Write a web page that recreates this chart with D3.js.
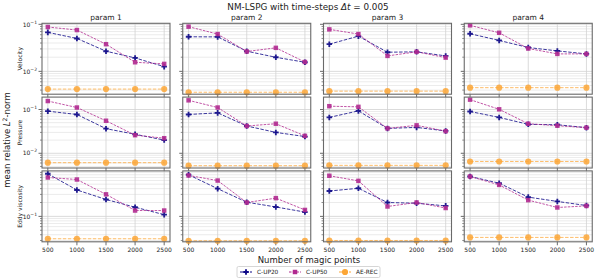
<!DOCTYPE html>
<html lang="en">
<head>
<meta charset="UTF-8">
<title>NM-LSPG errors</title>
<script src="https://d3js.org/d3.v7.min.js"></script>
<style>
  body { margin: 0; background: #fff; }
  svg { font-family: "DejaVu Sans", sans-serif; display: block; }
</style>
</head>
<body>
<div id="chart"></div>
<script>
// data
var magicPoints = [500, 1000, 1500, 2000, 2500];
var params = ["param 1", "param 2", "param 3", "param 4"];
var rowLabels = ["Velocity", "Pressure", "Eddy viscosity"];
var seriesNames = ["C-UP20", "C-UP50", "AE-REC"];

// one inner array per param
var cup20Vel = [
  [0.0674, 0.050, 0.0268, 0.0193, 0.0126],
  [0.0543, 0.054, 0.0268, 0.0199, 0.0156],
  [0.0378, 0.056, 0.0255, 0.026, 0.0213],
  [0.063, 0.0454, 0.0321, 0.0272, 0.0235]
];
var cup50Vel = [
  [0.0875, 0.0755, 0.0378, 0.0156, 0.0144],
  [0.089, 0.062, 0.0264, 0.0316, 0.0158],
  [0.078, 0.062, 0.0213, 0.026, 0.0196],
  [0.095, 0.066, 0.0306, 0.0235, 0.0235]
];
var aeRecVel = [
  [0.0042, 0.0042, 0.0042, 0.0042, 0.0042],
  [0.0036, 0.0036, 0.0036, 0.0036, 0.0036],
  [0.0038, 0.0038, 0.0038, 0.0038, 0.0038],
  [0.0045, 0.0045, 0.0045, 0.0045, 0.0045]
];
var cup20Pres = [
  [0.0916, 0.077, 0.0365, 0.0272, 0.020],
  [0.077, 0.0838, 0.042, 0.030, 0.0241],
  [0.066, 0.093, 0.037, 0.039, 0.0324],
  [0.090, 0.066, 0.0458, 0.0449, 0.0385]
];
var cup50Pres = [
  [0.156, 0.111, 0.0553, 0.0259, 0.0221],
  [0.162, 0.111, 0.042, 0.0473, 0.025],
  [0.119, 0.115, 0.037, 0.0435, 0.032],
  [0.168, 0.101, 0.0473, 0.0427, 0.0385]
];
var aeRecPres = [
  [0.0061, 0.0061, 0.0061, 0.0061, 0.0061],
  [0.0052, 0.0052, 0.0052, 0.0052, 0.0052],
  [0.0053, 0.0053, 0.0053, 0.0053, 0.0053],
  [0.0065, 0.0065, 0.0065, 0.0065, 0.0065]
];
var cup20Eddy = [
  [0.841, 0.374, 0.233, 0.158, 0.109],
  [0.80, 0.399, 0.203, 0.160, 0.124],
  [0.355, 0.407, 0.200, 0.193, 0.169],
  [0.734, 0.525, 0.262, 0.211, 0.172]
];
var cup50Eddy = [
  [0.698, 0.631, 0.301, 0.134, 0.134],
  [0.773, 0.599, 0.200, 0.249, 0.138],
  [0.761, 0.590, 0.164, 0.200, 0.152],
  [0.734, 0.482, 0.225, 0.156, 0.169]
];
var aeRecEddy = [
  [0.0327, 0.0327, 0.0327, 0.0327, 0.0327],
  [0.0296, 0.0296, 0.0296, 0.0296, 0.0296],
  [0.030, 0.030, 0.030, 0.030, 0.030],
  [0.035, 0.035, 0.035, 0.035, 0.035]
];
var yDomains = [[0.00327, 0.105], [0.00461, 0.192], [0.0281, 0.97]];

var rows = [
  [cup20Vel, cup50Vel, aeRecVel],
  [cup20Pres, cup50Pres, aeRecPres],
  [cup20Eddy, cup50Eddy, aeRecEddy]
];

var colors = [d3.interpolatePlasma(0.0), d3.interpolatePlasma(0.4), d3.interpolatePlasma(0.8)];
var symTypes = [d3.symbolCross, d3.symbolSquare, d3.symbolCircle];
var symSizes = [17, 20, 30];
var dashes = ["3.5,1.5", "2.5,1.2", "3.5,1.5"];

var W = 598, H = 280;
var padL = 42, padT = 23.3, pw = 128, ph = 70.9, gx = 12.75, gy = 2.9;

var svg = d3.select("#chart").append("svg")
  .attr("width", W).attr("height", H);

var x = d3.scaleLinear().domain([400, 2600]).range([0, pw]);

function supNum(sel, exp) {
  sel.text("10");
  sel.append("tspan").attr("dy", -3).attr("font-size", 4.5).text("\u2212" + exp);
}

rows.forEach(function(series, r) {
  var y = d3.scaleLog().domain(yDomains[r]).range([ph, 0]);
  var lo = Math.floor(Math.log10(yDomains[r][0])), hi = Math.ceil(Math.log10(yDomains[r][1]));
  var majors = [], minors = [];
  for (var e = lo; e <= hi; e++) {
    var base = Math.pow(10, e);
    if (base >= yDomains[r][0] && base <= yDomains[r][1]) majors.push(base);
    for (var k = 2; k < 10; k++) {
      var v = k * base;
      if (v >= yDomains[r][0] && v <= yDomains[r][1]) minors.push(v);
    }
  }

  params.forEach(function(p, c) {
    var g = svg.append("g")
      .attr("transform", "translate(" + (padL + c * (pw + gx)) + "," + (padT + r * (ph + gy)) + ")");

    g.append("rect").attr("width", pw).attr("height", ph).attr("fill", "#fff");

    // grid
    g.selectAll(".minor").data(minors).enter().append("line")
      .attr("x1", 0).attr("x2", pw)
      .attr("y1", function(d) { return y(d); }).attr("y2", function(d) { return y(d); })
      .attr("stroke", "#e6e6e6").attr("stroke-width", 0.8);
    g.selectAll(".major").data(majors).enter().append("line")
      .attr("x1", 0).attr("x2", pw)
      .attr("y1", function(d) { return y(d); }).attr("y2", function(d) { return y(d); })
      .attr("stroke", "#d2d2d2").attr("stroke-width", 0.8);
    g.selectAll(".vgrid").data(magicPoints).enter().append("line")
      .attr("x1", function(d) { return x(d); }).attr("x2", function(d) { return x(d); })
      .attr("y1", 0).attr("y2", ph)
      .attr("stroke", "#d2d2d2").attr("stroke-width", 0.8);

    // ticks
    g.selectAll(".ytm").data(minors).enter().append("line")
      .attr("x1", -2).attr("x2", 0)
      .attr("y1", function(d) { return y(d); }).attr("y2", function(d) { return y(d); })
      .attr("stroke", "#444").attr("stroke-width", 0.6);
    g.selectAll(".ytM").data(majors).enter().append("line")
      .attr("x1", -3.5).attr("x2", 0)
      .attr("y1", function(d) { return y(d); }).attr("y2", function(d) { return y(d); })
      .attr("stroke", "#444").attr("stroke-width", 0.8);
    g.selectAll(".xt").data(magicPoints).enter().append("line")
      .attr("x1", function(d) { return x(d); }).attr("x2", function(d) { return x(d); })
      .attr("y1", ph).attr("y2", ph + 3.5)
      .attr("stroke", "#444").attr("stroke-width", 0.8);

    if (c === 0) {
      majors.forEach(function(m) {
        g.append("text").attr("x", -5).attr("y", y(m) + 2.2)
          .attr("text-anchor", "end").attr("font-size", 6).attr("fill", "#222")
          .call(supNum, -Math.round(Math.log10(m)));
      });
      g.append("text")
        .attr("transform", "translate(-20," + (ph / 2) + ") rotate(-90)")
        .attr("text-anchor", "middle").attr("font-size", 6).attr("fill", "#222")
        .text(rowLabels[r]);
    }
    if (r === 0) {
      g.append("text").attr("x", pw / 2).attr("y", -3)
        .attr("text-anchor", "middle").attr("font-size", 7.5).attr("fill", "#222")
        .text(p);
    }
    if (r === rows.length - 1) {
      g.selectAll(".xl").data(magicPoints).enter().append("text")
        .attr("x", function(d) { return x(d); }).attr("y", ph + 10)
        .attr("text-anchor", "middle").attr("font-size", 6).attr("fill", "#222")
        .text(function(d) { return d; });
    }

    var line = d3.line()
      .x(function(d, i) { return x(magicPoints[i]); })
      .y(function(d) { return y(d); });

    series.forEach(function(s, si) {
      var vals = s[c];
      g.append("path").datum(vals)
        .attr("d", line).attr("fill", "none")
        .attr("stroke", colors[si]).attr("stroke-width", 1)
        .attr("stroke-opacity", si === 2 ? 0.75 : 0.8)
        .attr("stroke-dasharray", dashes[si]);
      g.selectAll(".m" + si).data(vals).enter().append("path")
        .attr("transform", function(d, i) { return "translate(" + x(magicPoints[i]) + "," + y(d) + ")"; })
        .attr("d", d3.symbol().type(symTypes[si]).size(symSizes[si]))
        .attr("fill", colors[si])
        .attr("fill-opacity", si === 2 ? 0.85 : 0.9);
    });

    g.append("rect").attr("width", pw).attr("height", ph)
      .attr("fill", "none").attr("stroke", "#6a6a6a").attr("stroke-width", 1.1);
  });
});

// figure texts
var title = svg.append("text").attr("x", 308).attr("y", 10)
  .attr("text-anchor", "middle").attr("font-size", 8.8).attr("fill", "#222");
title.append("tspan").text("NM-LSPG with time-steps ");
title.append("tspan").attr("font-style", "italic").text("\u0394t");
title.append("tspan").text(" = 0.005");

svg.append("text").attr("x", 309).attr("y", 263)
  .attr("text-anchor", "middle").attr("font-size", 8.5).attr("fill", "#222")
  .text("Number of magic points");

var yl = svg.append("text")
  .attr("transform", "translate(10,140) rotate(-90)")
  .attr("text-anchor", "middle").attr("font-size", 8.5).attr("fill", "#222");
yl.append("tspan").text("mean relative ");
yl.append("tspan").attr("font-style", "italic").text("L");
yl.append("tspan").attr("dy", -3).attr("font-size", 6).text("2");
yl.append("tspan").attr("dy", 3).text("-norm");

// legend
var lg = svg.append("g").attr("transform", "translate(237,266.5)");
lg.append("rect").attr("width", 143).attr("height", 11).attr("rx", 1.5)
  .attr("fill", "#fff").attr("stroke", "#ccc").attr("stroke-width", 0.8);
var legX = [3, 52, 102];
seriesNames.forEach(function(n, si) {
  var it = lg.append("g").attr("transform", "translate(" + legX[si] + ",5.5)");
  it.append("line").attr("x1", 0).attr("x2", 12)
    .attr("stroke", colors[si]).attr("stroke-width", 1)
    .attr("stroke-dasharray", dashes[si]);
  it.append("path").attr("transform", "translate(6,0)")
    .attr("d", d3.symbol().type(symTypes[si]).size(symSizes[si]))
    .attr("fill", colors[si]);
  it.append("text").attr("x", 17).attr("y", 2).attr("font-size", 5.8).attr("fill", "#222").text(n);
});
</script>
</body>
</html>
